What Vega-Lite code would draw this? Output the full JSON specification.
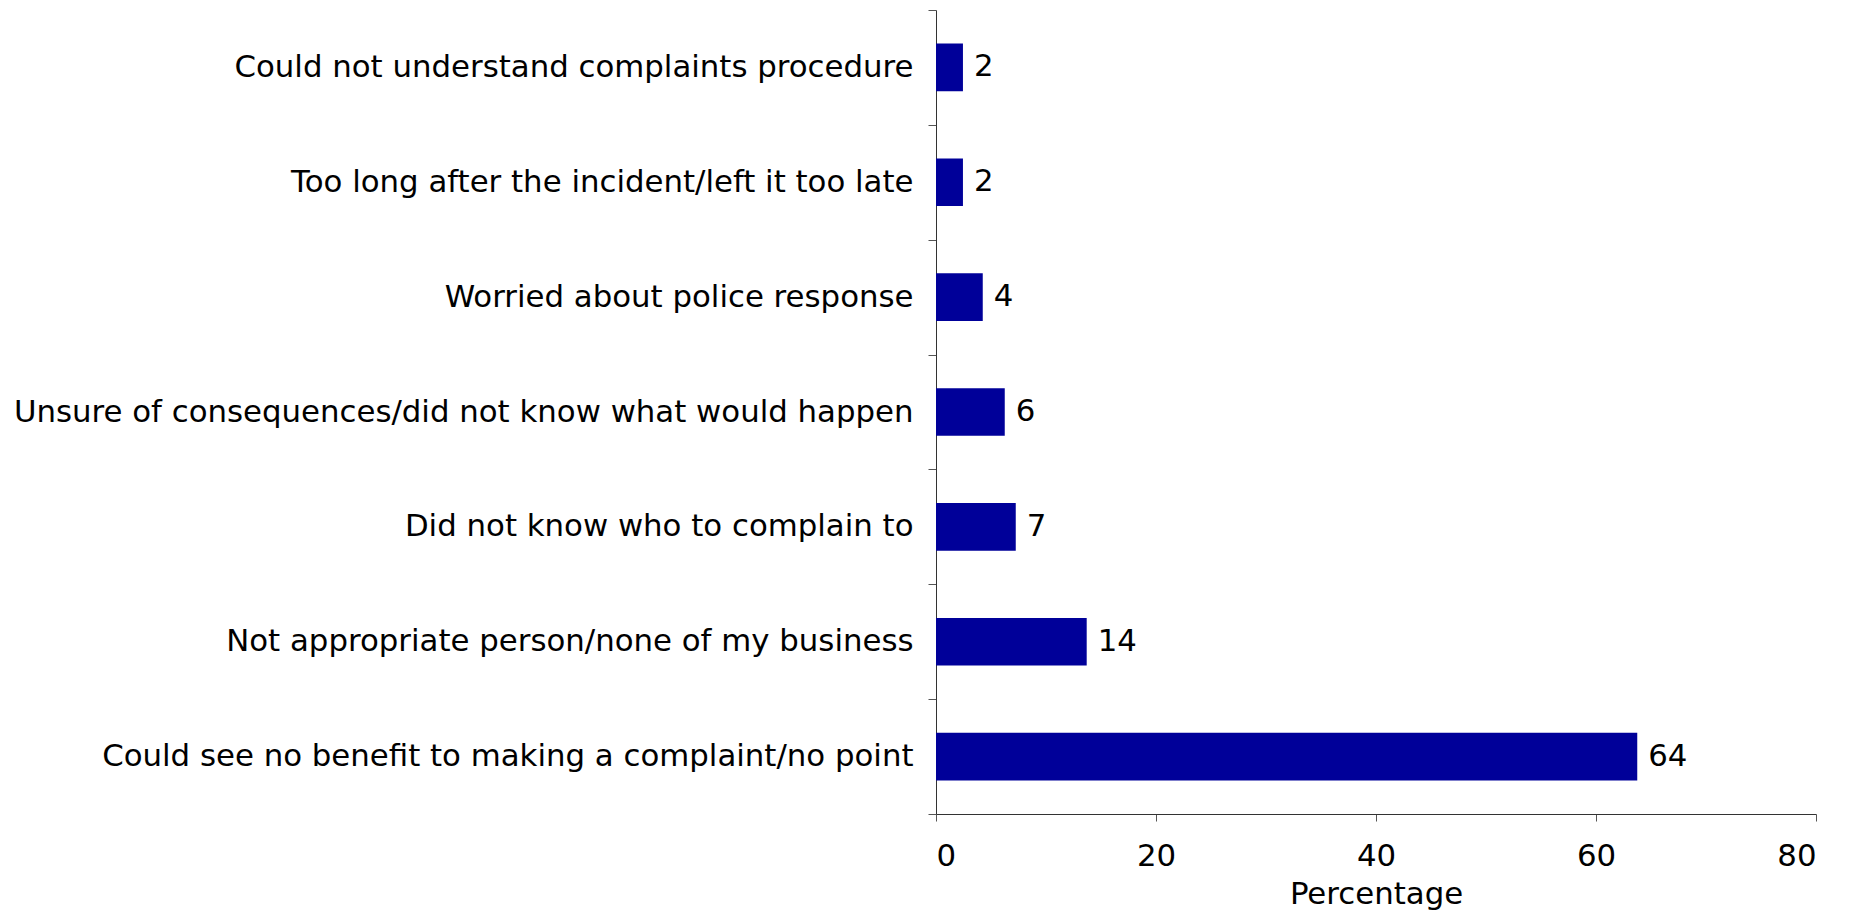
{
  "$schema": "https://vega.github.io/schema/vega-lite/v6.json",
  "width": 880,
  "height": 804,
  "autosize": {"type": "none"},
  "padding": {"left": 936, "top": 10, "right": 36, "bottom": 97},
  "background": "white",
  "config": {
    "view": {"stroke": null},
    "font": "DejaVu Sans"
  },
  "data": {
    "values": [
      {"reason": "Could not understand complaints procedure", "value": 2.45, "label": "2"},
      {"reason": "Too long after the incident/left it too late", "value": 2.45, "label": "2"},
      {"reason": "Worried about police response", "value": 4.25, "label": "4"},
      {"reason": "Unsure of consequences/did not know what would happen", "value": 6.25, "label": "6"},
      {"reason": "Did not know who to complain to", "value": 7.25, "label": "7"},
      {"reason": "Not appropriate person/none of my business", "value": 13.7, "label": "14"},
      {"reason": "Could see no benefit to making a complaint/no point", "value": 63.75, "label": "64"}
    ]
  },
  "encoding": {
    "y": {
      "field": "reason",
      "type": "nominal",
      "sort": null,
      "scale": {"paddingInner": 0, "paddingOuter": 0},
      "axis": {
        "title": null,
        "tickBand": "extent",
        "tickSize": 8,
        "tickColor": "#555555",
        "domainColor": "#333333",
        "labelFont": "DejaVu Sans",
        "labelFontSize": 30.8,
        "labelColor": "black",
        "labelPadding": 15,
        "labelLimit": 1000
      }
    }
  },
  "layer": [
    {
      "mark": {"type": "bar", "color": "#000099", "height": {"band": 0.415}},
      "encoding": {
        "x": {
          "field": "value",
          "type": "quantitative",
          "scale": {"domain": [0, 80]},
          "axis": {
            "title": "Percentage",
            "values": [0, 20, 40, 60, 80],
            "grid": false,
            "tickSize": 7,
            "tickColor": "#555555",
            "domainColor": "#333333",
            "labelFont": "DejaVu Sans",
            "labelFontSize": 30.8,
            "labelColor": "black",
            "labelPadding": 20,
            "titleFont": "DejaVu Sans",
            "titleFontSize": 30.8,
            "titleFontWeight": "normal",
            "titleColor": "black",
            "titlePadding": 9
          }
        }
      }
    },
    {
      "mark": {"type": "text", "align": "left", "baseline": "middle", "dx": 11, "fontSize": 30.8, "font": "DejaVu Sans", "color": "black"},
      "encoding": {
        "x": {"field": "value", "type": "quantitative"},
        "text": {"field": "label"}
      }
    }
  ]
}
